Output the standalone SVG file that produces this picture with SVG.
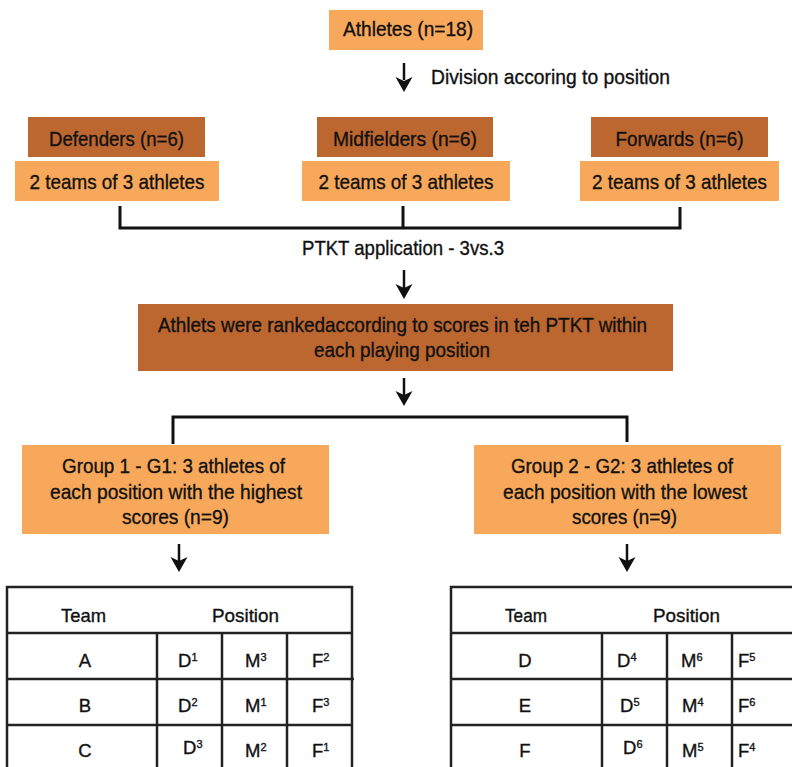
<svg xmlns="http://www.w3.org/2000/svg" width="792" height="767" viewBox="0 0 792 767">
<defs>
<style>
text{font-family:"Liberation Sans Narrow","Liberation Sans",Arial,sans-serif;fill:#111;stroke:#111;stroke-width:0.35;}
.t{font-size:21px;text-anchor:middle;}
.tl{font-size:21px;}
.tb{font-size:18.5px;text-anchor:middle;}
.c{font-size:18.5px;}
.sup{font-size:11px;}
.light{fill:#F8A85A;}
.dark{fill:#BC6630;}
.ln{fill:none;stroke:#111;stroke-width:3;}
.ar{fill:none;stroke:#111;stroke-width:2.5;}
.grid{fill:none;stroke:#222;stroke-width:2.5;}
</style>
</defs>
<rect width="792" height="767" fill="#fff"/>

<g id="connectors">
<path class="ar" d="M404 63 V80" />
<path d="M404 92 L395.5 77 L404 81 L412.5 77 Z" fill="#111"/>
<path class="ln" d="M120 206 V228 H680 V207"/>
<path class="ln" d="M403 206 V228"/>
<path class="ar" d="M404 270 V288"/>
<path d="M404 299 L395.5 284 L404 288 L412.5 284 Z" fill="#111"/>
<path class="ar" d="M404 378 V395"/>
<path d="M404 406 L395.5 391 L404 395 L412.5 391 Z" fill="#111"/>
<path class="ln" d="M173 444 V417 H627 V442"/>
<path class="ar" d="M179 544 V561"/>
<path d="M179 572 L170.5 557 L179 561 L187.5 557 Z" fill="#111"/>
<path class="ar" d="M627 544 V561"/>
<path d="M627 572 L618.5 557 L627 561 L635.5 557 Z" fill="#111"/>
<text class="tl" x="431" y="84" textLength="239" lengthAdjust="spacingAndGlyphs">Division accoring to position</text>
<text class="t" x="403" y="255" textLength="202" lengthAdjust="spacingAndGlyphs">PTKT application - 3vs.3</text>
</g>

<g id="athletes">
<rect class="light" x="329" y="10" width="154" height="40"/>
<text class="t" x="408" y="36" textLength="130" lengthAdjust="spacingAndGlyphs">Athletes (n=18)</text>
</g>

<g id="defenders">
<rect class="dark" x="28" y="117" width="177" height="40"/>
<text class="t" x="116.5" y="146" textLength="135" lengthAdjust="spacingAndGlyphs">Defenders (n=6)</text>
</g>
<g id="defenders-teams">
<rect class="light" x="15" y="161" width="204" height="40"/>
<text class="t" x="117" y="189" textLength="175" lengthAdjust="spacingAndGlyphs">2 teams of 3 athletes</text>
</g>

<g id="midfielders">
<rect class="dark" x="317" y="117" width="176" height="40"/>
<text class="t" x="405" y="146" textLength="144" lengthAdjust="spacingAndGlyphs">Midfielders (n=6)</text>
</g>
<g id="midfielders-teams">
<rect class="light" x="302" y="161" width="208" height="40"/>
<text class="t" x="406" y="189" textLength="175" lengthAdjust="spacingAndGlyphs">2 teams of 3 athletes</text>
</g>

<g id="forwards">
<rect class="dark" x="591" y="117" width="177" height="40"/>
<text class="t" x="679.5" y="146" textLength="128" lengthAdjust="spacingAndGlyphs">Forwards (n=6)</text>
</g>
<g id="forwards-teams">
<rect class="light" x="580" y="161" width="199" height="40"/>
<text class="t" x="679.5" y="189" textLength="175" lengthAdjust="spacingAndGlyphs">2 teams of 3 athletes</text>
</g>

<g id="ranking">
<rect class="dark" x="138" y="304" width="535" height="67"/>
<text class="t" x="402.5" y="332" textLength="489" lengthAdjust="spacingAndGlyphs">Athlets were rankedaccording to scores in teh PTKT within</text>
<text class="t" x="402" y="357" textLength="176" lengthAdjust="spacingAndGlyphs">each playing position</text>
</g>

<g id="group1">
<rect class="light" x="22" y="445" width="307" height="89"/>
<text class="t" x="173.5" y="473" textLength="223" lengthAdjust="spacingAndGlyphs">Group 1 - G1: 3 athletes of</text>
<text class="t" x="176" y="499" textLength="252" lengthAdjust="spacingAndGlyphs">each position with the highest</text>
<text class="t" x="175.5" y="524" textLength="107" lengthAdjust="spacingAndGlyphs">scores (n=9)</text>
</g>

<g id="group2">
<rect class="light" x="474" y="445" width="307" height="89"/>
<text class="t" x="622" y="473" textLength="222" lengthAdjust="spacingAndGlyphs">Group 2 - G2: 3 athletes of</text>
<text class="t" x="625" y="499" textLength="244" lengthAdjust="spacingAndGlyphs">each position with the lowest</text>
<text class="t" x="624.5" y="524" textLength="105" lengthAdjust="spacingAndGlyphs">scores (n=9)</text>
</g>

<g id="table1">
<path class="grid" d="M7 767 V587 H352 V767 M6 633 H353 M6 679 H354 M7 725 H353 M157 633 V767 M222 633 V767 M287 633 V767"/>
<text class="tb" x="83.5" y="622" textLength="45" lengthAdjust="spacingAndGlyphs">Team</text>
<text class="tb" x="245.5" y="622" textLength="67" lengthAdjust="spacingAndGlyphs">Position</text>
<text class="tb" x="85" y="667">A</text>
<text class="tb" x="85" y="712">B</text>
<text class="tb" x="85" y="757">C</text>
<text class="c" x="178" y="667">D<tspan class="sup" dy="-6">1</tspan></text>
<text class="c" x="245" y="667">M<tspan class="sup" dy="-6">3</tspan></text>
<text class="c" x="312" y="667">F<tspan class="sup" dy="-6">2</tspan></text>
<text class="c" x="178" y="712">D<tspan class="sup" dy="-6">2</tspan></text>
<text class="c" x="245" y="712">M<tspan class="sup" dy="-6">1</tspan></text>
<text class="c" x="312" y="712">F<tspan class="sup" dy="-6">3</tspan></text>
<text class="c" x="183" y="754">D<tspan class="sup" dy="-6">3</tspan></text>
<text class="c" x="245" y="757">M<tspan class="sup" dy="-6">2</tspan></text>
<text class="c" x="312" y="757">F<tspan class="sup" dy="-6">1</tspan></text>
</g>

<g id="table2">
<path class="grid" d="M451 767 V587 H800 M450 633 H800 M450 679 H800 M451 725 H800 M602 633 V767 M667 633 V767 M732 633 V767"/>
<text class="tb" x="526" y="622" textLength="42" lengthAdjust="spacingAndGlyphs">Team</text>
<text class="tb" x="686.5" y="622" textLength="67" lengthAdjust="spacingAndGlyphs">Position</text>
<text class="tb" x="525" y="667">D</text>
<text class="tb" x="525" y="712">E</text>
<text class="tb" x="525" y="757">F</text>
<text class="c" x="617" y="667">D<tspan class="sup" dy="-6">4</tspan></text>
<text class="c" x="681" y="667">M<tspan class="sup" dy="-6">6</tspan></text>
<text class="c" x="738" y="667">F<tspan class="sup" dy="-6">5</tspan></text>
<text class="c" x="620" y="712">D<tspan class="sup" dy="-6">5</tspan></text>
<text class="c" x="682" y="712">M<tspan class="sup" dy="-6">4</tspan></text>
<text class="c" x="738" y="712">F<tspan class="sup" dy="-6">6</tspan></text>
<text class="c" x="623" y="754">D<tspan class="sup" dy="-6">6</tspan></text>
<text class="c" x="682" y="757">M<tspan class="sup" dy="-6">5</tspan></text>
<text class="c" x="738" y="757">F<tspan class="sup" dy="-6">4</tspan></text>
</g>
</svg>
